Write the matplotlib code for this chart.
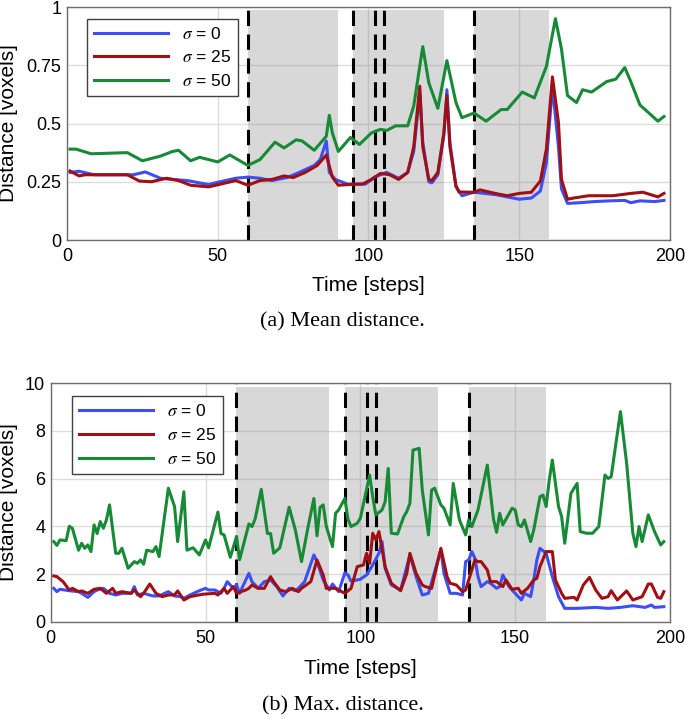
import numpy as np
import matplotlib
matplotlib.use("Agg")
import matplotlib.pyplot as plt

plt.rcParams['font.family'] = ['Liberation Sans', 'DejaVu Sans']
plt.rcParams['mathtext.fontset'] = 'stix'

# --- data ---
labels = [r'$\sigma$ = 0', r'$\sigma$ = 25', r'$\sigma$ = 50']
colors = ['#3d4ef2', '#a00f12', '#178a35']

shaded = [(60, 90), (95, 125), (135, 160)]
events = [60, 95, 102, 105, 135]

xticks = [0, 50, 100, 150, 200]
mean_yticks = [0, 0.25, 0.5, 0.75, 1]
mean_yticklabels = ['0', '0.25', '0.5', '0.75', '1']
max_yticks = [0, 2, 4, 6, 8, 10]

# (a) mean distance
mean_s0_x = [1, 4, 9, 22, 26, 31, 35, 40, 44, 47, 50, 56, 60, 64, 68, 73, 77, 82, 84, 86,
             87, 89, 93, 97, 99, 102, 106, 110, 113, 115, 117, 118, 120, 121, 123, 125, 126, 127, 129, 131,
             135, 142, 150, 154, 157, 159, 161, 163, 164, 166, 170, 175, 180, 185, 187, 190, 195, 198]
mean_s0_y = [0.29, 0.295, 0.28, 0.28, 0.292, 0.265, 0.26, 0.255, 0.245, 0.238, 0.248, 0.265, 0.27, 0.265, 0.255, 0.268, 0.29, 0.32, 0.345, 0.425,
             0.29, 0.26, 0.24, 0.24, 0.24, 0.27, 0.29, 0.265, 0.29, 0.38, 0.63, 0.42, 0.25, 0.245, 0.28, 0.45, 0.645, 0.42, 0.23, 0.19,
             0.205, 0.195, 0.175, 0.18, 0.21, 0.33, 0.66, 0.4, 0.22, 0.157, 0.16, 0.165, 0.168, 0.17, 0.16, 0.168, 0.165, 0.17]

mean_s25_x = [1, 4, 6, 20, 24, 28, 33, 37, 41, 47, 51, 56, 60, 64, 68, 72, 75, 79, 83, 84,
              86, 88, 90, 95, 98, 101, 104, 107, 110, 113, 115, 117, 118, 120, 121, 123, 125, 126, 127, 129,
              130, 135, 137, 142, 146, 150, 154, 157, 159, 161, 163, 164, 166, 168, 173, 181, 187, 191, 196, 198]
mean_s25_y = [0.296, 0.275, 0.28, 0.28, 0.253, 0.25, 0.265, 0.255, 0.235, 0.228, 0.24, 0.255, 0.235, 0.255, 0.26, 0.275, 0.268, 0.29, 0.32, 0.335,
              0.365, 0.27, 0.235, 0.239, 0.24, 0.26, 0.286, 0.28, 0.26, 0.29, 0.40, 0.66, 0.40, 0.26, 0.255, 0.29, 0.46, 0.62, 0.40, 0.232,
              0.206, 0.205, 0.215, 0.2, 0.19, 0.2, 0.205, 0.253, 0.39, 0.70, 0.505, 0.26, 0.175, 0.18, 0.19, 0.19, 0.2, 0.205, 0.185, 0.2]

mean_s50_x = [1, 3, 8, 20, 25, 31, 35, 37, 41, 44, 50, 54, 60, 64, 69, 72, 76, 78, 82, 86,
              87, 88, 90, 94, 97, 101, 104, 106, 109, 113, 115, 118, 120, 123, 126, 129, 131, 135, 139, 144,
              146, 151, 155, 159, 162, 164, 166, 169, 171, 174, 179, 182, 185, 187, 190, 196, 198]
mean_s50_y = [0.39, 0.39, 0.37, 0.375, 0.34, 0.36, 0.38, 0.385, 0.34, 0.355, 0.335, 0.365, 0.32, 0.345, 0.42, 0.395, 0.43, 0.425, 0.385, 0.445,
              0.535, 0.46, 0.38, 0.44, 0.41, 0.46, 0.475, 0.47, 0.49, 0.49, 0.575, 0.83, 0.675, 0.565, 0.77, 0.59, 0.525, 0.545, 0.51, 0.56,
              0.56, 0.635, 0.61, 0.745, 0.95, 0.82, 0.62, 0.59, 0.645, 0.635, 0.68, 0.69, 0.74, 0.68, 0.58, 0.51, 0.53]

# (b) max distance, (step, value)
max_s0 = [(1, 1.4), (2, 1.26), (3, 1.36), (6, 1.3), (9, 1.26), (10, 1.19), (12, 1.02), (14, 1.26), (15, 1.33),
          (17, 1.4), (19, 1.19), (21, 1.12), (23, 1.19), (26, 1.19), (27, 1.47), (28, 1.12), (30, 1.19), (33, 1.08),
          (35, 1.08), (38, 1.26), (40, 1.08), (42, 1.05), (43, 0.98), (45, 1.12), (48, 1.3), (50, 1.4), (51, 1.33),
          (53, 1.33), (55, 1.19), (56, 1.4), (57, 1.68), (59, 1.4), (60, 1.54), (61, 1.19), (63, 1.75), (64, 2.03),
          (65, 1.68), (67, 1.4), (69, 1.68), (71, 1.75), (73, 1.47), (75, 1.08), (77, 1.4), (79, 1.3), (80, 1.4),
          (82, 1.68), (85, 2.8), (86, 2.52), (88, 1.75), (90, 1.33), (91, 1.58), (93, 1.26), (95, 2.05), (96, 1.96),
          (97, 1.7), (100, 1.78), (102, 1.96), (104, 2.38), (106, 2.87), (107, 3.36), (108, 2.24), (110, 1.54),
          (113, 1.33), (116, 2.8), (118, 1.89), (120, 1.12), (122, 1.19), (126, 3.01), (127, 2.03), (129, 1.19),
          (131, 1.19), (133, 1.12), (134, 2.52), (135, 2.59), (136, 2.94), (137, 2.66), (138, 1.89), (139, 1.47),
          (141, 1.68), (142, 1.61), (144, 1.4), (145, 1.47), (146, 1.96), (148, 1.47), (150, 1.19), (152, 0.91),
          (153, 1.19), (155, 1.05), (156, 1.75), (157, 2.59), (158, 3.08), (160, 2.87), (162, 1.89), (164, 1.05),
          (166, 0.56), (170, 0.56), (176, 0.6), (180, 0.56), (184, 0.6), (188, 0.67), (192, 0.6), (194, 0.7),
          (195, 0.6), (198, 0.63)]

max_s25 = [(1, 1.92), (2, 1.89), (4, 1.68), (6, 1.33), (7, 1.4), (9, 1.26), (10, 1.29), (12, 1.19), (14, 1.36),
           (16, 1.4), (18, 1.19), (20, 1.4), (21, 1.19), (23, 1.26), (26, 1.19), (27, 1.33), (29, 1.05), (30, 1.19),
           (32, 1.58), (34, 1.19), (36, 1.05), (38, 1.12), (40, 1.12), (41, 1.29), (43, 0.91), (45, 1.05), (49, 1.15),
           (53, 1.19), (54, 1.12), (56, 1.4), (57, 1.19), (59, 1.47), (60, 1.19), (63, 1.33), (64, 1.4), (65, 1.54),
           (67, 1.4), (69, 1.4), (71, 1.89), (72, 1.68), (74, 1.33), (76, 1.26), (78, 1.4), (80, 1.26), (81, 1.4),
           (84, 1.68), (86, 2.59), (88, 1.96), (89, 1.4), (92, 1.4), (93, 1.33), (95, 1.19), (97, 1.4), (99, 2.31),
           (101, 2.38), (102, 2.87), (103, 2.45), (104, 3.71), (105, 3.43), (106, 3.78), (108, 2.31), (110, 1.61),
           (113, 1.3), (115, 2.03), (116, 2.87), (118, 2.03), (120, 1.54), (121, 1.47), (123, 1.4), (126, 3.08),
           (128, 1.89), (129, 1.61), (131, 1.54), (133, 1.26), (134, 1.33), (136, 2.17), (137, 2.59), (138, 2.52),
           (139, 2.52), (141, 2.17), (142, 1.68), (144, 1.68), (146, 1.47), (147, 1.75), (149, 1.36), (151, 1.4),
           (152, 1.19), (154, 1.4), (156, 1.75), (157, 1.82), (158, 2.31), (160, 2.94), (162, 2.94), (163, 1.75),
           (165, 1.19), (166, 0.98), (169, 1.02), (170, 0.91), (172, 1.54), (174, 1.86), (176, 1.33), (178, 0.98),
           (180, 1.05), (181, 1.3), (183, 0.91), (186, 1.29), (188, 0.91), (191, 1.05), (193, 1.58), (194, 1.58),
           (196, 1.02), (197, 0.98), (198, 1.26)]

max_s50 = [(1, 3.36), (2, 3.2), (3, 3.43), (5, 3.4), (6, 4.0), (7, 3.92), (9, 3.0), (10, 3.29), (11, 3.08),
           (12, 3.22), (13, 2.94), (14, 4.06), (15, 3.7), (16, 4.2), (17, 3.92), (18, 4.27), (19, 4.9), (21, 2.87),
           (22, 2.87), (23, 3.08), (25, 2.24), (27, 2.52), (28, 2.45), (29, 2.59), (30, 2.41), (31, 3.0), (33, 2.94),
           (34, 3.15), (35, 2.73), (38, 5.6), (40, 4.83), (41, 3.36), (43, 5.45), (44, 3.0), (46, 3.1), (48, 2.8),
           (50, 3.43), (51, 3.1), (52, 3.6), (54, 4.6), (55, 3.7), (56, 3.64), (58, 2.7), (60, 3.57), (61, 2.6),
           (64, 4.1), (65, 3.99), (66, 4.3), (68, 5.55), (70, 3.7), (71, 3.7), (72, 2.87), (74, 3.1), (77, 4.8),
           (79, 3.85), (81, 2.52), (83, 3.9), (85, 5.17), (86, 3.6), (87, 4.8), (88, 4.9), (89, 4.0), (91, 3.15),
           (92, 4.55), (93, 4.69), (95, 5.17), (96, 4.3), (97, 3.99), (99, 4.13), (100, 4.34), (103, 6.15),
           (104, 5.24), (105, 4.48), (107, 4.69), (108, 5.03), (109, 6.43), (110, 3.71), (112, 3.68), (114, 4.4),
           (115, 4.62), (116, 4.97), (117, 7.2), (119, 7.27), (120, 5.52), (122, 3.64), (123, 5.52), (124, 5.6),
           (126, 4.9), (127, 4.76), (129, 4.06), (130, 5.8), (132, 4.27), (134, 3.64), (135, 4.27), (136, 3.99),
           (138, 4.69), (141, 6.57), (143, 4.3), (144, 3.75), (145, 4.55), (146, 4.06), (149, 4.76), (150, 4.69),
           (151, 4.06), (152, 3.99), (153, 4.27), (155, 3.36), (156, 3.85), (158, 5.24), (159, 5.31), (160, 4.83),
           (161, 5.94), (162, 6.78), (164, 4.83), (165, 4.41), (166, 3.29), (168, 5.38), (170, 5.8), (171, 3.78),
           (173, 3.71), (175, 3.71), (177, 3.99), (179, 6.15), (180, 6.01), (181, 6.08), (184, 8.81), (186, 6.64),
           (188, 3.71), (189, 3.15), (190, 3.99), (191, 3.36), (193, 4.48), (195, 3.78), (197, 3.22), (198, 3.36)]


def style_axes(ax, ylim, yticks, yticklabels=None):
    for t0, t1 in shaded:
        ax.axvspan(t0, t1, ymin=0.005, ymax=0.985, color=(0.5, 0.5, 0.5), alpha=0.3, lw=0, zorder=1)
    for ev in events:
        ax.axvline(ev, color='black', lw=2.2, dashes=(5, 2.8), zorder=2)
    ax.set_xlim(0, 200)
    ax.set_ylim(*ylim)
    ax.set_xticks(xticks)
    ax.set_yticks(yticks)
    if yticklabels is not None:
        ax.set_yticklabels(yticklabels)
    ax.grid(True, color='#dcdcdc', lw=1.0)
    ax.set_axisbelow(True)
    ax.tick_params(length=0, labelsize=13)
    ax.tick_params(axis='x', pad=6)
    ax.tick_params(axis='y', pad=4)
    for sp in ax.spines.values():
        sp.set_color('#6e6e6e')
        sp.set_linewidth(1.0)
    ax.set_xlabel('Time [steps]', fontsize=15)
    ax.set_ylabel('Distance [voxels]', fontsize=15)


fig = plt.figure(figsize=(6.85, 7.18), dpi=100)

# (a)
ax1 = fig.add_axes([67 / 685, 1 - 240 / 718, 603 / 685, 233 / 718])
style_axes(ax1, (0, 1), mean_yticks, mean_yticklabels)
ax1.plot(mean_s0_x, mean_s0_y, color=colors[0], lw=2.2, label=labels[0], zorder=3)
ax1.plot(mean_s25_x, mean_s25_y, color=colors[1], lw=2.2, label=labels[1], zorder=3)
ax1.plot(mean_s50_x, mean_s50_y, color=colors[2], lw=2.2, label=labels[2], zorder=3)
ax1.xaxis.set_label_coords(0.5, -0.155)
ax1.yaxis.set_label_coords(-0.081, 0.5)
leg1 = ax1.legend(loc='upper left', bbox_to_anchor=(0.033, 0.95), borderaxespad=0,
                  fontsize=12.5, handlelength=4.3, labelspacing=0.45, fancybox=False,
                  edgecolor='#404040', framealpha=1)
leg1.get_frame().set_linewidth(1.0)

# (b)
ax2 = fig.add_axes([50.7 / 685, 1 - 621.7 / 718, 619.3 / 685, 238.4 / 718])
style_axes(ax2, (0, 10), max_yticks)
for data, c, lab in zip([max_s0, max_s25, max_s50], colors, labels):
    xs, ys = np.array(data).T
    ax2.plot(xs, ys, color=c, lw=2.2, label=lab, zorder=3)
ax2.xaxis.set_label_coords(0.5, -0.157)
ax2.yaxis.set_label_coords(-0.053, 0.5)
leg2 = ax2.legend(loc='upper left', bbox_to_anchor=(0.034, 0.945), borderaxespad=0,
                  fontsize=12.5, handlelength=4.3, labelspacing=0.45, fancybox=False,
                  edgecolor='#404040', framealpha=1)
leg2.get_frame().set_linewidth(1.0)

fig.text(0.5, 1 - 322 / 718, '(a) Mean distance.', ha='center', va='center',
         family='Liberation Serif', fontsize=16)
fig.text(0.5, 1 - 706 / 718, '(b) Max. distance.', ha='center', va='center',
         family='Liberation Serif', fontsize=16)

fig.savefig('out.png', dpi=100)
